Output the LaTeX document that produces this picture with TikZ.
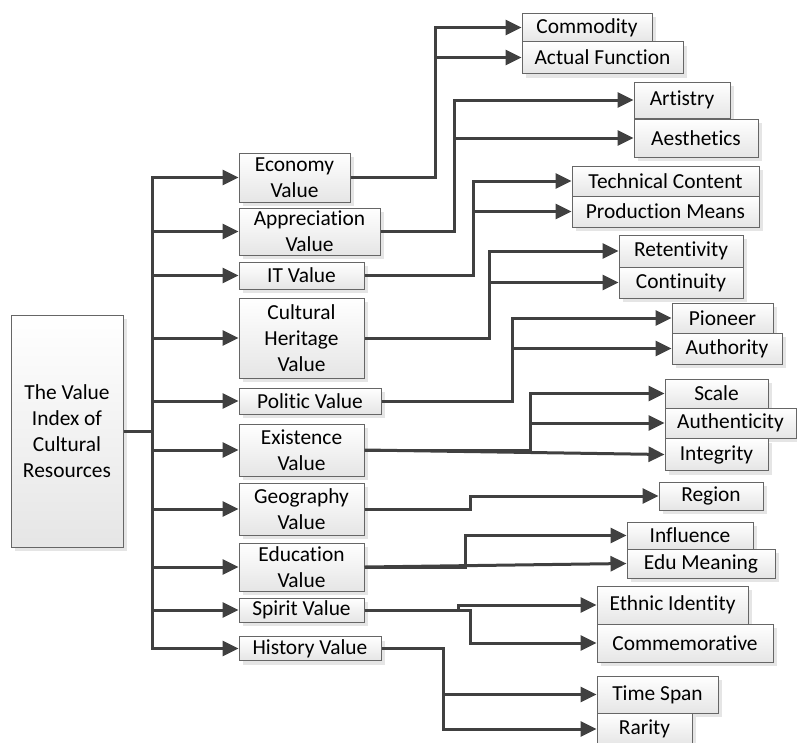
\documentclass[tikz,border=0pt]{standalone}
\usepackage{fontspec}
\setmainfont[Ligatures=NoCommon]{Carlito}
\usetikzlibrary{arrows.meta,shadows}

\newcommand\valuefont{\fontsize{21.4}{26}\selectfont}
\tikzset{
  valuebox/.style={draw=black!60, line width=1pt, top color=white, bottom color=black!10,
    font=\valuefont, align=center, inner sep=1pt,
    drop shadow={shadow xshift=4pt, shadow yshift=-4pt, fill=black!20, opacity=0.5}},
  buslink/.style={draw=black!75, line width=3pt},
  valuelink/.style={buslink, -{Triangle[length=16pt,width=15pt]}}
}
\newcommand\valuenode[6]{
  \node[valuebox, minimum width=#4, minimum height=#5] (#1) at (#2,#3) {#6};
}
\newcommand\valuetrunk[3]{
  \draw[valuelink] (#1.east) -| ([xshift=-#3]#2.west) -- (#2.west);
}
\newcommand\valuebranch[2]{
  \draw[valuelink] ([xshift=-#2]#1.west) -- (#1.west);
}

\begin{document}
\begin{tikzpicture}[x=1pt, y=-1pt]
    \useasboundingbox (0,0) rectangle (797,742);
    % root
    \valuenode{valueindex}{67}{431}{112}{232}{The Value\\Index of\\Cultural\\Resources}
    % value kinds
    \valuenode{econ}{294.5}{177.5}{111}{49}{Economy\\Value}
    \valuenode{appr}{309.5}{231.5}{141}{47}{Appreciation\\Value}
    \valuenode{itv}{301.5}{275.5}{125}{27}{IT Value}
    \valuenode{cult}{301.5}{338}{125}{80}{Cultural\\Heritage\\Value}
    \valuenode{poli}{310}{401}{142}{26}{Politic Value}
    \valuenode{exist}{301.5}{450}{125}{52}{Existence\\Value}
    \valuenode{geo}{301.5}{509}{125}{52}{Geography\\Value}
    \valuenode{edu}{301.5}{567}{125}{48}{Education\\Value}
    \valuenode{spir}{301.5}{610}{125}{24}{Spirit Value}
    \valuenode{hist}{310}{648.5}{142}{24}{History Value}
    % indices
    \valuenode{comm}{587}{27.5}{130}{29}{Commodity}
    \valuenode{actf}{602.5}{57.5}{161}{32}{Actual Function}
    \valuenode{arts}{682}{100}{96}{36}{Artistry}
    \valuenode{aest}{696}{138}{124}{38}{Aesthetics}
    \valuenode{tech}{665.5}{181}{187}{30}{Technical Content}
    \valuenode{prod}{665.5}{211.5}{187}{31}{Production Means}
    \valuenode{rete}{681}{251}{124}{32}{Retentivity}
    \valuenode{cont}{681}{282.5}{124}{31}{Continuity}
    \valuenode{pion}{722.5}{318}{101}{30}{Pioneer}
    \valuenode{auth}{727}{348.5}{110}{31}{Authority}
    \valuenode{scal}{716.5}{393.5}{103}{29}{Scale}
    \valuenode{aute}{730.5}{423}{131}{30}{Authenticity}
    \valuenode{inte}{716.5}{454.5}{103}{32}{Integrity}
    \valuenode{regi}{711}{496}{104}{28}{Region}
    \valuenode{infl}{690}{535.5}{126}{27}{Influence}
    \valuenode{edum}{701}{563.5}{148}{29}{Edu Meaning}
    \valuenode{ethn}{672.5}{605}{151}{38}{Ethnic Identity}
    \valuenode{cmem}{685}{643}{176}{38}{Commemorative}
    \valuenode{tspn}{657.5}{694.5}{121}{37}{Time Span}
    \valuenode{rari}{644.5}{729}{95}{32}{Rarity}
    % bus
    \draw[buslink] (valueindex.east) -- ++(29,0) coordinate (bus);
    \draw[valuelink] (bus) |- (econ.west);
    \draw[valuelink] (bus) |- (appr.west);
    \draw[valuelink] (bus) |- (itv.west);
    \draw[valuelink] (bus) |- (cult.west);
    \draw[valuelink] (bus) |- (poli.west);
    \draw[valuelink] (bus) |- (exist.west);
    \draw[valuelink] (bus) |- (geo.west);
    \draw[valuelink] (bus) |- (edu.west);
    \draw[valuelink] (bus) |- (spir.west);
    \draw[valuelink] (bus) |- (hist.west);
    % kinds to indices
    \valuetrunk{econ}{comm}{86}
    \valuebranch{actf}{86}
    \valuetrunk{appr}{arts}{179}
    \valuebranch{aest}{179}
    \valuetrunk{itv}{tech}{98}
    \valuebranch{prod}{98}
    \valuetrunk{cult}{rete}{129}
    \valuebranch{cont}{129}
    \valuetrunk{poli}{pion}{159}
    \valuebranch{auth}{159}
    \valuetrunk{exist}{scal}{134}
    \valuebranch{aute}{134}
    \draw[valuelink] (exist.east) -- (inte.west);
    \valuetrunk{geo}{regi}{188}
    \valuetrunk{edu}{infl}{161}
    \draw[valuelink] (edu.east) -- (edum.west);
    \valuetrunk{spir}{ethn}{138}
    \valuetrunk{spir}{cmem}{126}
    \valuetrunk{hist}{rari}{153}
    \valuebranch{tspn}{153}
\end{tikzpicture}
\end{document}
